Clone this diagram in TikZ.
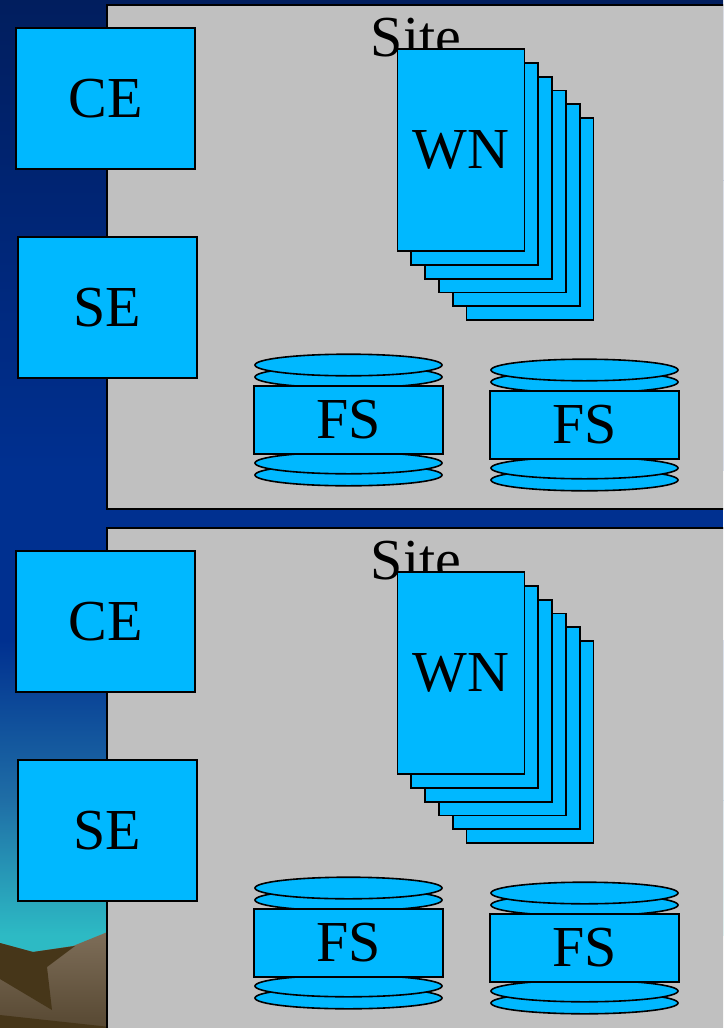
\documentclass[tikz,border=0pt]{standalone}
\usepackage{fontspec}
\setmainfont{Liberation Serif}
\usetikzlibrary{positioning}

\definecolor{unit}{HTML}{00B8FF}
\definecolor{sitegrey}{HTML}{C0C0C0}
\definecolor{sky0}{HTML}{011E5E}
\definecolor{sky1}{HTML}{002472}
\definecolor{sky2}{HTML}{003090}
\definecolor{sky3}{HTML}{1F6EA6}
\definecolor{sky4}{HTML}{2DBAC4}
\definecolor{rocklight}{HTML}{7E6E59}
\definecolor{rockmid}{HTML}{574832}
\definecolor{rockdark}{HTML}{463619}

\begin{document}
\begin{tikzpicture}[x=1pt, y=-1pt,
    every node/.style={font=\fontsize{58}{58}\selectfont},
    sitebox/.style={draw, fill=sitegrey, line width=2pt, inner sep=0pt, anchor=north west},
    unitbox/.style={draw, fill=unit, line width=1.8pt, inner sep=0pt,
                    minimum width=179pt, minimum height=141pt},
    card/.style={draw, fill=unit, line width=1.8pt, inner sep=0pt,
                 minimum width=127pt, minimum height=202pt},
    fsbox/.style={draw, fill=unit, line width=1.8pt, inner sep=0pt,
                  minimum width=189pt, minimum height=68pt},
    disk/.style={draw, fill=unit, line width=1.6pt}]

  \clip (0,0) rectangle (723,1028);

  % backdrop
  \shade[top color=sky0, bottom color=sky1] (0,0) rectangle (723,180);
  \shade[top color=sky1, bottom color=sky2] (0,180) rectangle (723,470);
  \fill[sky2] (0,470) rectangle (723,640);
  \shade[top color=sky2, bottom color=sky3] (0,640) rectangle (723,800);
  \shade[top color=sky3, bottom color=sky4] (0,800) rectangle (723,935);
  \fill[sky4] (0,935) rectangle (723,1028);

  % hills
  \shade[top color=rocklight, bottom color=rockmid]
    (0,943) -- (33,952) -- (73,946) -- (110,931) -- (110,1028) -- (0,1028) -- cycle;
  \fill[rockdark] (0,943) -- (33,952) -- (75,946) -- (47,967) -- (52,1010) -- (0,979) -- cycle;
  \fill[rockdark] (0,1015) -- (110,1027) -- (110,1028) -- (0,1028) -- cycle;

  \foreach \n/\dy in {1/0, 2/523} {
    \begin{scope}[yshift=-\dy pt]
      \node[sitebox, minimum width=640pt, minimum height=504pt+\dy pt] (site\n) at (106,4) {};
      \node (sitelabel\n) at (416,38) {Site};

      % worker nodes
      \foreach \k in {5,4,...,1}
        \node[card] (wn\n-\k) at (461+13.8*\k, 150+13.8*\k) {};
      \node[card] (wn\n) at (461,150) {WN};

      \node[unitbox] (ce\n) at (105.5,98.5) {CE};
      \node[unitbox, below=66pt of ce\n, xshift=2pt] (se\n) {SE};

      % file servers
      \foreach \c/\cx/\cy in {a/348.5/420, b/584.5/425} {
        \foreach \off in {55,43,-43,-55}
          \draw[disk] (\cx,\cy+\off) ellipse [x radius=93.5, y radius=10.8];
        \node[fsbox] (fs\n\c) at (\cx,\cy) {FS};
      }
    \end{scope}
  }
\end{tikzpicture}
\end{document}
